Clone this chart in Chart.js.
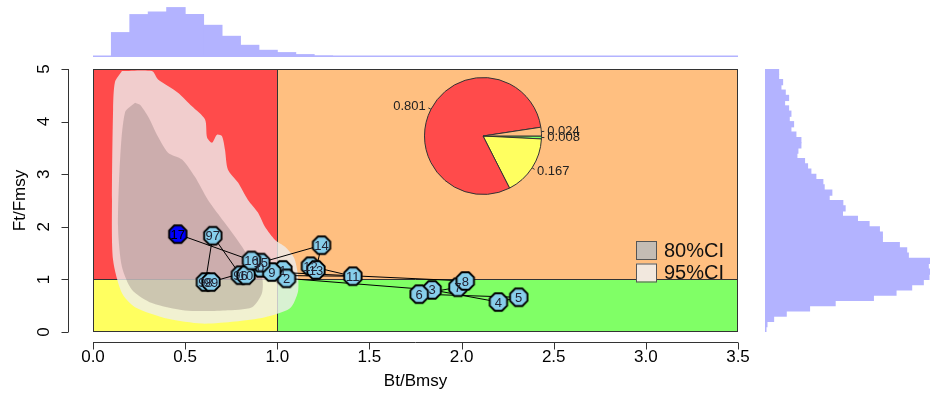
<!DOCTYPE html>
<html>
<head>
<meta charset="utf-8">
<script src="https://cdn.jsdelivr.net/npm/chart.js@4.4.1/dist/chart.umd.min.js"></script>
<style>
  html, body { margin: 0; padding: 0; background: #fff; }
  #wrap { position: relative; width: 930px; height: 396px; overflow: hidden; }
  canvas { position: absolute; }
</style>
</head>
<body>
<div id="wrap">
  <canvas id="kobe" width="930" height="396" style="left:0;top:0"></canvas>
  <canvas id="histTop" width="645" height="57" style="left:93px;top:0"></canvas>
  <canvas id="histRight" width="165" height="263" style="left:765px;top:69px"></canvas>
  <canvas id="pie" width="210" height="132" style="left:380px;top:70px"></canvas>
</div>
<script>
// ---- data ----
const years = ['96', '97', '98', '99', '0', '1', '2', '3', '4', '5', '6', '7', '8', '9', '10', '11', '12', '13', '14', '15', '16', '17'];
const bRatio = [0.80, 0.65, 0.61, 0.64, 0.91, 1.03, 1.05, 1.84, 2.20, 2.31, 1.77, 1.98, 2.02, 0.97, 0.83, 1.41, 1.18, 1.21, 1.24, 0.91, 0.86, 0.46];
const fRatio = [1.08, 1.83, 0.95, 0.95, 1.22, 1.18, 1.02, 0.80, 0.57, 0.66, 0.72, 0.85, 0.97, 1.14, 1.08, 1.06, 1.25, 1.18, 1.65, 1.32, 1.36, 1.86];

// confidence region outlines (Bt/Bmsy, Ft/Fmsy)
const ci95B = [0.157, 0.320, 0.353, 0.461, 0.537, 0.608, 0.619, 0.646, 0.673, 0.700, 0.716, 0.732, 0.787, 0.841, 0.895, 0.933, 0.988, 1.042, 1.091, 1.112, 1.112, 1.069, 0.933, 0.771, 0.591, 0.407, 0.228, 0.157, 0.109, 0.103, 0.109, 0.119];
const ci95F = [4.96, 4.96, 4.80, 4.55, 4.29, 4.04, 3.70, 3.60, 3.75, 3.72, 3.47, 3.09, 2.84, 2.51, 2.27, 2.00, 1.75, 1.62, 1.41, 1.08, 0.76, 0.45, 0.28, 0.20, 0.16, 0.25, 0.47, 0.74, 1.37, 2.51, 4.23, 4.75];
const ci80B = [0.228, 0.255, 0.298, 0.353, 0.407, 0.483, 0.553, 0.624, 0.716, 0.809, 0.863, 0.917, 0.917, 0.863, 0.716, 0.499, 0.320, 0.212, 0.157, 0.136, 0.147, 0.174];
const ci80F = [4.36, 4.32, 4.10, 3.71, 3.41, 3.28, 2.95, 2.51, 2.07, 1.62, 1.31, 1.04, 0.74, 0.47, 0.41, 0.41, 0.55, 0.80, 1.24, 1.99, 3.28, 4.18];

// marginal histograms
const topBinStart = [0.1, 0.2, 0.3, 0.4, 0.5, 0.6, 0.7, 0.8, 0.9, 1.0, 1.1, 1.2];
const topCounts = [24.4, 42.4, 45, 49.4, 42.4, 31.7, 20.7, 11.7, 6.7, 4.4, 2.4, 1.0];
const rightCounts = [1, 6, 26, 64, 134, 211, 326, 394, 441, 476, 493, 496, 491, 496, 431, 426, 404, 353, 353, 344,
                     313, 278, 233, 241, 234, 193, 201, 178, 174, 153, 138, 128, 119, 96, 99, 108, 108, 93, 78, 86,
                     73, 78, 71, 59, 71, 61, 48, 53, 41, 41];
const binWidth = 0.1;

// quadrant probabilities (pie)
const pieLabels = ['green', 'yellow', 'red', 'orange'];
const pieValues = [0.008, 0.167, 0.801, 0.024];

const xTicks = ['0.0', '0.5', '1.0', '1.5', '2.0', '2.5', '3.0', '3.5'];
const yTicks = ['0', '1', '2', '3', '4', '5'];
const refPoint = 1;

// ---- styles ----
const RED = '#FF4B4B', ORANGE = '#FFBF80', YELLOW = '#FFFF60', GREEN = '#80FF66';
const HIST = '#B3B3FF';
const FONT = '"Liberation Sans", Arial, sans-serif';

function octagon(fill) {
  const c = document.createElement('canvas');
  c.width = 22; c.height = 22;
  const g = c.getContext('2d');
  g.beginPath();
  for (let i = 0; i < 8; i++) {
    const a = Math.PI / 8 + i * Math.PI / 4;
    const px = 11 + 9.4 * Math.cos(a), py = 11 + 9.4 * Math.sin(a);
    if (i) g.lineTo(px, py); else g.moveTo(px, py);
  }
  g.closePath();
  g.fillStyle = fill; g.fill();
  g.lineWidth = 1.9; g.strokeStyle = '#000'; g.stroke();
  return c;
}
const octSky = octagon('#87CEEB');
const octBlue = octagon('#0000FF');

function closed(xs, ys) {
  const pts = xs.map((v, i) => ({ x: v, y: ys[i] }));
  pts.push(pts[0]);
  return pts;
}

// background zones, reference lines, box
const zonesPlugin = {
  id: 'zones',
  beforeDatasetsDraw(chart) {
    const { ctx, chartArea: a, scales: { x, y } } = chart;
    const rx = x.getPixelForValue(refPoint), ry = y.getPixelForValue(refPoint);
    ctx.save();
    ctx.fillStyle = RED; ctx.fillRect(a.left, a.top, rx - a.left, ry - a.top);
    ctx.fillStyle = ORANGE; ctx.fillRect(rx, a.top, a.right - rx, ry - a.top);
    ctx.fillStyle = YELLOW; ctx.fillRect(a.left, ry, rx - a.left, a.bottom - ry);
    ctx.fillStyle = GREEN; ctx.fillRect(rx, ry, a.right - rx, a.bottom - ry);
    ctx.strokeStyle = '#333'; ctx.lineWidth = 1;
    ctx.beginPath();
    ctx.moveTo(Math.round(rx) + 0.5, a.top); ctx.lineTo(Math.round(rx) + 0.5, a.bottom);
    ctx.moveTo(a.left, Math.round(ry) + 0.5); ctx.lineTo(a.right, Math.round(ry) + 0.5);
    ctx.stroke();
    ctx.strokeRect(a.left + 0.5, a.top + 0.5, a.right - a.left - 1, a.bottom - a.top - 1);
    ctx.restore();
  }
};

// year labels on points and the CI legend
const labelsPlugin = {
  id: 'yearLabels',
  afterDatasetsDraw(chart) {
    const { ctx } = chart;
    const meta = chart.getDatasetMeta(0);
    ctx.save();
    ctx.font = '13px ' + FONT;
    ctx.textAlign = 'center'; ctx.textBaseline = 'middle';
    meta.data.forEach((pt, i) => {
      ctx.fillStyle = i === years.length - 1 ? '#000' : '#223';
      ctx.fillText(years[i], pt.x, pt.y + 1);
    });
    // legend
    const items = [['80%CI', '#C4BCB4'], ['95%CI', '#F2E8DE']];
    ctx.font = '20px ' + FONT;
    ctx.textAlign = 'left';
    items.forEach(([txt, col], i) => {
      const top = 241 + i * 22.5;
      ctx.fillStyle = col;
      ctx.fillRect(636, top, 20, 18);
      ctx.strokeStyle = '#555'; ctx.lineWidth = 1;
      ctx.strokeRect(636.5, top + 0.5, 20, 18);
      ctx.fillStyle = '#111';
      ctx.fillText(txt, 664, top + 10);
    });
    ctx.restore();
  }
};

// R style detached axes
const axesPlugin = {
  id: 'rAxes',
  afterDraw(chart) {
    const { ctx, chartArea: a, scales: { x, y } } = chart;
    ctx.save();
    ctx.strokeStyle = '#333'; ctx.lineWidth = 1; ctx.fillStyle = '#000';
    ctx.font = '17px ' + FONT;
    const ax = a.bottom + 10.5;
    ctx.beginPath();
    ctx.moveTo(x.getPixelForValue(+xTicks[0]), ax);
    ctx.lineTo(x.getPixelForValue(+xTicks[xTicks.length - 1]), ax);
    xTicks.forEach(t => {
      const px = Math.round(x.getPixelForValue(+t)) + 0.5;
      ctx.moveTo(px, ax); ctx.lineTo(px, ax + 7);
    });
    const ay = a.left - 24.5;
    ctx.moveTo(ay, y.getPixelForValue(+yTicks[0]));
    ctx.lineTo(ay, y.getPixelForValue(+yTicks[yTicks.length - 1]));
    yTicks.forEach(t => {
      const py = Math.round(y.getPixelForValue(+t)) + 0.5;
      ctx.moveTo(ay, py); ctx.lineTo(ay - 7, py);
    });
    ctx.stroke();
    ctx.textAlign = 'center'; ctx.textBaseline = 'middle';
    xTicks.forEach(t => ctx.fillText(t, x.getPixelForValue(+t), ax + 15));
    yTicks.forEach(t => {
      ctx.save();
      ctx.translate(ay - 24, y.getPixelForValue(+t));
      ctx.rotate(-Math.PI / 2);
      ctx.fillText(t, 0, 0);
      ctx.restore();
    });
    ctx.fillText('Bt/Bmsy', (a.left + a.right) / 2, 381);
    ctx.save();
    ctx.translate(20, (a.top + a.bottom) / 2);
    ctx.rotate(-Math.PI / 2);
    ctx.fillText('Ft/Fmsy', 0, 0);
    ctx.restore();
    ctx.restore();
  }
};

new Chart(document.getElementById('kobe'), {
  type: 'scatter',
  data: {
    datasets: [
      {
        data: years.map((yr, i) => ({ x: bRatio[i], y: fRatio[i] })),
        showLine: true,
        borderColor: '#000',
        borderWidth: 1,
        pointStyle: ctx => ctx.dataIndex === years.length - 1 ? octBlue : octSky,
        pointRadius: 9,
        clip: false
      },
      {
        data: closed(ci80B, ci80F),
        showLine: true,
        fill: 'shape',
        backgroundColor: 'rgba(120,100,100,0.3)',
        borderWidth: 0,
        pointRadius: 0,
        tension: 0.25
      },
      {
        data: closed(ci95B, ci95F),
        showLine: true,
        fill: 'shape',
        backgroundColor: 'rgba(238,238,238,0.8)',
        borderWidth: 0,
        pointRadius: 0,
        tension: 0.25
      }
    ]
  },
  options: {
    responsive: false,
    animation: false,
    events: [],
    layout: { padding: { left: 93, right: 192, top: 69, bottom: 64 } },
    scales: {
      x: { type: 'linear', min: 0, max: 3.5, display: false },
      y: { type: 'linear', min: 0, max: 5, display: false }
    },
    plugins: { legend: { display: false }, tooltip: { enabled: false } }
  },
  plugins: [zonesPlugin, labelsPlugin, axesPlugin]
});

// top marginal histogram of Bt/Bmsy
new Chart(document.getElementById('histTop'), {
  type: 'bar',
  data: {
    datasets: [{
      data: topBinStart.map((b, i) => ({ x: b + binWidth / 2, y: topCounts[i] })),
      backgroundColor: HIST,
      borderWidth: 0,
      inflateAmount: 0.5,
      barPercentage: 1,
      categoryPercentage: 1
    }]
  },
  options: {
    responsive: false, animation: false, events: [],
    scales: {
      x: { type: 'linear', min: 0, max: 3.5, offset: false, display: false },
      y: { min: 0, max: 57, display: false }
    },
    plugins: { legend: { display: false }, tooltip: { enabled: false } }
  },
  plugins: [{
    id: 'baseTop',
    afterDraw(chart) {
      const { ctx, chartArea: a } = chart;
      ctx.save();
      ctx.strokeStyle = HIST; ctx.lineWidth = 1.5;
      ctx.beginPath(); ctx.moveTo(a.left, a.bottom - 0.75); ctx.lineTo(a.right, a.bottom - 0.75); ctx.stroke();
      ctx.restore();
    }
  }]
});

// right marginal histogram of Ft/Fmsy
new Chart(document.getElementById('histRight'), {
  type: 'bar',
  data: {
    datasets: [{
      data: rightCounts.map((c, i) => ({ y: (i + 0.5) * binWidth, x: c })),
      backgroundColor: HIST,
      borderWidth: 0,
      inflateAmount: 0.5,
      barPercentage: 1,
      categoryPercentage: 1
    }]
  },
  options: {
    indexAxis: 'y',
    responsive: false, animation: false, events: [],
    scales: {
      y: { type: 'linear', min: 0, max: 5, offset: false, display: false },
      x: { min: 0, max: 496, display: false }
    },
    plugins: { legend: { display: false }, tooltip: { enabled: false } }
  },
  plugins: [{
    id: 'baseRight',
    afterDraw(chart) {
      const { ctx, chartArea: a } = chart;
      ctx.save();
      ctx.strokeStyle = HIST; ctx.lineWidth = 1.5;
      ctx.beginPath(); ctx.moveTo(a.left + 0.75, a.top); ctx.lineTo(a.left + 0.75, a.bottom); ctx.stroke();
      ctx.restore();
    }
  }]
});

// inset pie of quadrant probabilities
new Chart(document.getElementById('pie'), {
  type: 'pie',
  data: {
    labels: pieLabels,
    datasets: [{
      data: pieValues,
      backgroundColor: [GREEN, YELLOW, RED, ORANGE],
      borderColor: '#333',
      borderWidth: 1
    }]
  },
  options: {
    responsive: false, animation: false, events: [],
    rotation: 90,
    layout: { padding: { left: 44, right: 48, top: 6, bottom: 6 } },
    plugins: { legend: { display: false }, tooltip: { enabled: false } }
  },
  plugins: [{
    id: 'pieLabels',
    afterDraw(chart) {
      const { ctx } = chart;
      ctx.save();
      ctx.font = '13px ' + FONT;
      ctx.fillStyle = '#222'; ctx.strokeStyle = '#333'; ctx.lineWidth = 1;
      ctx.textBaseline = 'middle';
      chart.getDatasetMeta(0).data.forEach((arc, i) => {
        const mid = (arc.startAngle + arc.endAngle) / 2;
        const r = arc.outerRadius;
        const c = Math.cos(mid), s = Math.sin(mid);
        ctx.beginPath();
        ctx.moveTo(arc.x + c * r, arc.y + s * r);
        ctx.lineTo(arc.x + c * r * 1.05, arc.y + s * r * 1.05);
        ctx.stroke();
        ctx.textAlign = c >= 0 ? 'left' : 'right';
        ctx.fillText(pieValues[i].toFixed(3), arc.x + c * r * 1.1, arc.y + s * r * 1.1);
      });
      ctx.restore();
    }
  }]
});
</script>
</body>
</html>
